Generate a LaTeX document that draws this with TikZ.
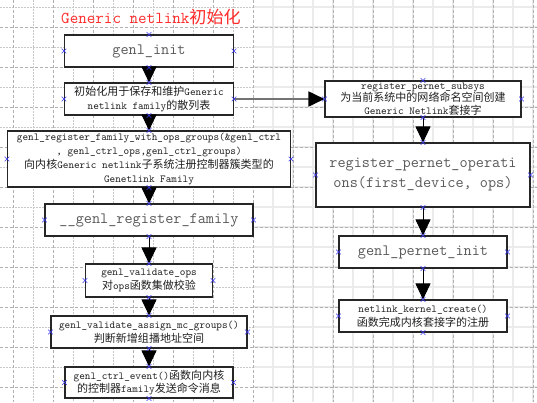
\documentclass[tikz,border=0pt]{standalone}
\usepackage{fontspec}
\newfontfamily\cjk{Noto Sans CJK SC}[Scale=1.03]
\usetikzlibrary{arrows.meta,shapes.misc}
\definecolor{GridDark}{HTML}{B0B0B0}
\definecolor{GridDot}{HTML}{C8C8C8}
\definecolor{GridLight}{HTML}{EBEBEB}
\definecolor{TitleRed}{HTML}{FF2A2A}
\definecolor{MarkBlue}{HTML}{3838F0}
\definecolor{BoxText}{HTML}{202020}

\begin{document}
\begin{tikzpicture}[x=1pt, y=-1pt,
    box/.style={draw=black!85, line width=1.1pt, fill=white, inner sep=0pt, align=center, text=BoxText, font=\ttfamily\fontsize{10.7}{13.8}\selectfont},
    bigbox/.style={box, text=black!65, font=\ttfamily\fontsize{15.8}{20}\selectfont},
    arrow/.style={-{Triangle[length=16pt, width=15pt]}, line width=0.9pt, draw=black},
    xmark/.style={cross out, draw=MarkBlue, line width=0.6pt, minimum size=4pt, inner sep=0pt},
    gridlight/.style={draw=GridLight, line width=1.6pt},
    gridminor/.style={draw=GridDot, line width=0.7pt, dash pattern=on 1.5pt off 1.5pt},
    gridmajor/.style={draw=GridDark, line width=0.7pt, dash pattern=on 3pt off 2pt}
]
\useasboundingbox (0,0) rectangle (537,402);
\fill[white] (0,0) rectangle (537,402);
% background grid
\foreach \x in {273,293,...,533} \draw[gridlight] (\x,0) -- (\x,402);
\foreach \y in {7,27,...,387} \draw[gridlight] (253,\y) -- (537,\y);
\foreach \x in {33,73,...,233} \draw[gridminor] (\x,0) -- (\x,402);
\foreach \y in {7,47,...,367} \draw[gridminor] (0,\y) -- (253,\y);
\foreach \x in {13,53,...,533} \draw[gridmajor] (\x,0) -- (\x,402);
\foreach \y in {27,67,...,387} \draw[gridmajor] (0,\y) -- (537,\y);

\node[text=TitleRed, font=\ttfamily\fontsize{16.6}{18}\selectfont] (title) at (151,17) {Generic netlink{\cjk 初始化}};

% left column
\node[bigbox, minimum width=169pt, minimum height=32pt] (init) at (149,51) {genl\_init};
\node[box, minimum width=169pt, minimum height=32pt] (hash) at (149,99) {{\cjk 初始化用于保存和维护}Generic\\netlink family{\cjk 的散列表}};
\node[box, minimum width=283pt, minimum height=56pt] (regops) at (149,159) {genl\_register\_family\_with\_ops\_groups(\&genl\_ctrl\\, genl\_ctrl\_ops,genl\_ctrl\_groups)\\{\cjk 向内核}Generic netlink{\cjk 子系统注册控制器簇类型的}\\Genetlink Family};
\node[bigbox, minimum width=208pt, minimum height=32pt] (regfam) at (149,220) {\_\_genl\_register\_family};
\node[box, minimum width=127pt, minimum height=33pt] (valops) at (149,280.5) {genl\_validate\_ops\\{\cjk 对}ops{\cjk 函数集做校验}};
\node[box, minimum width=196pt, minimum height=32pt] (valmc) at (149,332) {genl\_validate\_assign\_mc\_groups()\\{\cjk 判断新增组播地址空间}};
\node[box, minimum width=168pt, minimum height=31pt] (event) at (149,382.5) {genl\_ctrl\_event(){\cjk 函数向内核}\\{\cjk 的控制器}family{\cjk 发送命令消息}};

% right column
\node[box, minimum width=196pt, minimum height=36pt, font=\ttfamily\fontsize{10.7}{12.6}\selectfont] (subsys) at (423,99) {register\_pernet\_subsys\\{\cjk 为当前系统中的网络命名空间创建}\\Generic Netlink{\cjk 套接字}};
\node[bigbox, minimum width=214pt, minimum height=64pt] (pernetops) at (423,175) {register\_pernet\_operati\\ons(first\_device, ops)};
\node[bigbox, minimum width=168pt, minimum height=32pt] (pernetinit) at (423,252) {genl\_pernet\_init};
\node[box, minimum width=168pt, minimum height=32pt] (kcreate) at (423,316) {netlink\_kernel\_create()\\{\cjk 函数完成内核套接字的注册}};

\draw[arrow] (init.south) -- (hash.north);
\draw[arrow] (hash.south) -- (regops.north);
\draw[arrow] (regops.south) -- (regfam.north);
\draw[arrow] (regfam.south) -- (valops.north);
\draw[arrow] (valops.south) -- (valmc.north);
\draw[arrow] (valmc.south) -- (event.north);
\draw[arrow, draw=black!55, line width=1.8pt, -{Triangle[length=16pt, width=15pt, color=black]}] (hash.east) -- (subsys.west);
\draw[arrow] (subsys.south) -- (pernetops.north);
\draw[arrow] (pernetops.south) -- (pernetinit.north);
\draw[arrow] (pernetinit.south) -- (kcreate.north);

% connection points
\foreach \n in {init,hash,regops,regfam,valops,valmc,event,subsys,pernetops,pernetinit,kcreate}
  \foreach \a in {north,south,east,west}
    \node[xmark] (\n-\a) at (\n.\a) {};
\end{tikzpicture}
\end{document}
